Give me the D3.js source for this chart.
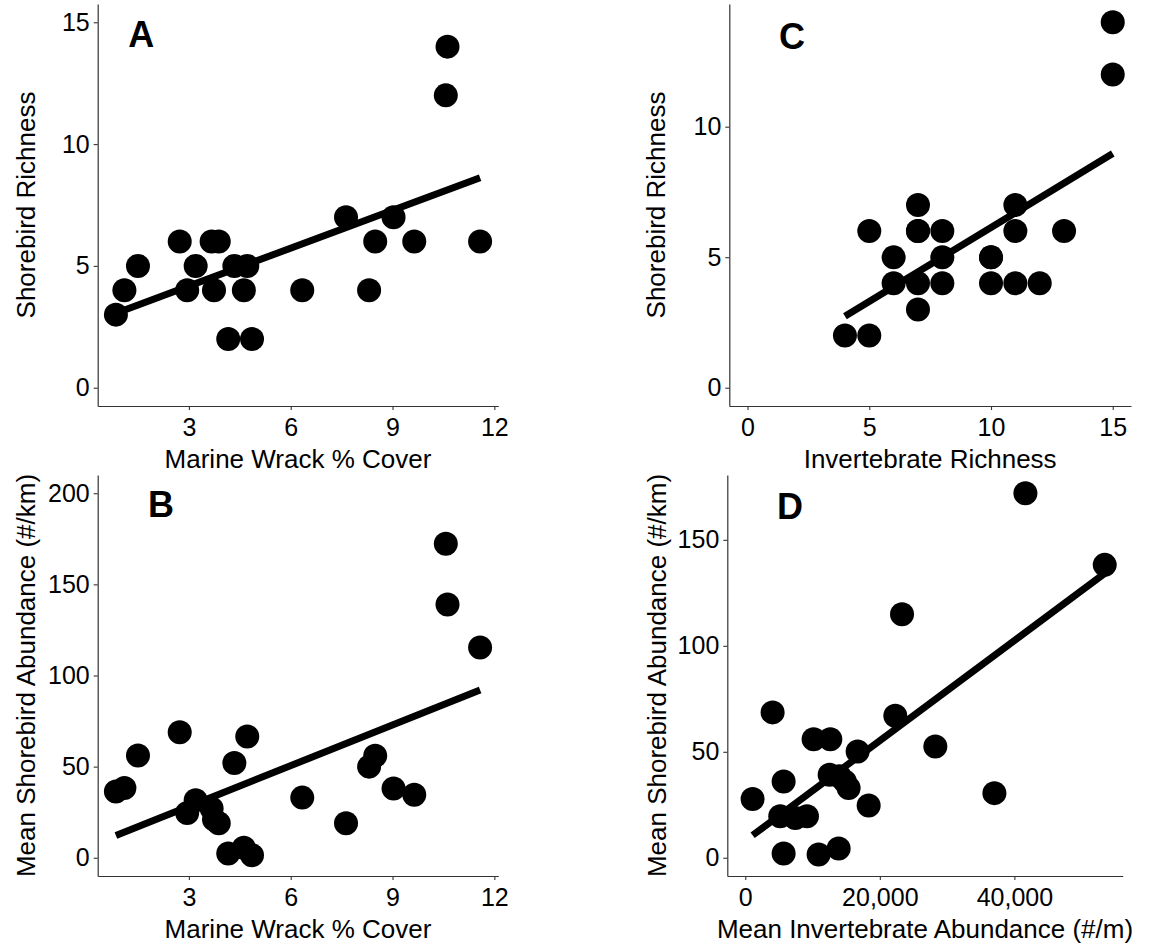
<!DOCTYPE html>
<html>
<head>
<meta charset="utf-8">
<script src="https://cdn.jsdelivr.net/npm/d3@7"></script>
<style>
  body { margin: 0; background: #fff; }
  text { font-family: 'Liberation Sans', Arial, sans-serif; fill: #000; }
</style>
</head>
<body>
<svg id="chart"></svg>
<script>
// marine wrack % cover per site (panels A and B share it)
const wrackCover = [0.85, 1.1, 1.5, 2.73, 2.95, 3.2, 3.67, 3.88, 3.74, 4.34, 4.72, 4.62,
  4.16, 4.86, 6.34, 7.63, 8.31, 8.49, 9.03, 9.64, 10.57, 10.62, 11.58];
const richnessByWrack = [3, 4, 5, 6, 4, 5, 6, 6, 4, 5, 5, 4, 2, 2, 4, 7, 4, 6, 7, 6, 12, 14, 6];
const abundanceByWrack = [36.4, 38.3, 56.1, 68.9, 24.6, 31.5, 27, 19, 21, 52, 66.5, 5.5,
  2.4, 1.4, 33, 19, 50, 56, 38, 34.6, 172.3, 139, 115.4];

// invertebrate richness vs shorebird richness (panel C)
const invertRichness = [4, 5, 5, 6, 6, 7, 7, 7, 7, 8, 8, 8, 10, 10, 11, 11, 11, 12, 13, 15, 15, 10, 7];
const richnessByInvert = [2, 2, 6, 5, 4, 7, 6, 4, 3, 6, 5, 4, 5, 4, 7, 6, 4, 4, 6, 12, 14, 5, 6];

// invertebrate abundance (#/m) vs shorebird abundance (panel D)
const invertAbundance = [1090, 4065, 5700, 5200, 5700, 7435, 9170, 10160, 10900, 12640, 12540,
  14000, 15360, 14800, 13880, 16700, 18340, 22300, 23300, 28250, 37030, 41640, 53430];
const abundanceByInvert = [27.7, 68.6, 36, 19.6, 2, 18.8, 19.6, 55.9, 1.5, 55.9, 39.2,
  38.5, 32.9, 36, 4.4, 50.1, 24.7, 67, 114.9, 52.5, 30.5, 172, 138.2];

// fitted line: y at the lowest and highest x of each panel
const fitA = [3.06, 8.62];
const fitB = [12.2, 92.1];
const fitC = [2.74, 8.97];
const fitD = [10.6, 134.2];

const ticksWrack = [3, 6, 9, 12];
const ticksRichA = [0, 5, 10, 15];
const ticksAbundB = [0, 50, 100, 150, 200];
const ticksInvRich = [0, 5, 10, 15];
const ticksRichC = [0, 5, 10];
const ticksInvAbund = [0, 20000, 40000];
const ticksAbundD = [0, 50, 100, 150];

const pad = ([lo, hi]) => {
  const d = (hi - lo) * 0.05;
  return [lo - d, hi + d];
};

const svg = d3.select('#chart')
  .attr('width', 1151)
  .attr('height', 951);

const panels = [
  {
    letter: 'A', letterAt: [1.6, 14.5],
    left: 97.7, top: 4, width: 400.6, height: 402,
    xs: wrackCover, ys: richnessByWrack, fit: fitA,
    xDomain: pad(d3.extent(wrackCover)), yDomain: pad([0, 15]),
    xTicks: ticksWrack, yTicks: ticksRichA, xFormat: d3.format('d'),
    xTitle: 'Marine Wrack % Cover', yTitle: 'Shorebird Richness', yTitleX: 35
  },
  {
    letter: 'B', letterAt: [2.18, 193.8],
    left: 97.7, top: 475, width: 400.6, height: 401,
    xs: wrackCover, ys: abundanceByWrack, fit: fitB,
    xDomain: pad(d3.extent(wrackCover)), yDomain: pad([0, 200]),
    xTicks: ticksWrack, yTicks: ticksAbundB, xFormat: d3.format('d'),
    xTitle: 'Marine Wrack % Cover', yTitle: 'Mean Shorebird Abundance (#/km)', yTitleX: 35
  },
  {
    letter: 'C', letterAt: [1.83, 13.48],
    left: 729.3, top: 4, width: 401.7, height: 402,
    xs: invertRichness, ys: richnessByInvert, fit: fitC,
    xDomain: pad([0, d3.max(invertRichness)]), yDomain: pad([0, d3.max(richnessByInvert)]),
    xTicks: ticksInvRich, yTicks: ticksRichC, xFormat: d3.format('d'),
    xTitle: 'Invertebrate Richness', yTitle: 'Shorebird Richness', yTitleX: 665
  },
  {
    letter: 'D', letterAt: [6650, 166],
    left: 727.3, top: 475, width: 395.4, height: 401,
    xs: invertAbundance, ys: abundanceByInvert, fit: fitD,
    xDomain: pad([0, d3.max(invertAbundance)]), yDomain: pad([0, d3.max(abundanceByInvert)]),
    xTicks: ticksInvAbund, yTicks: ticksAbundD, xFormat: d3.format(','),
    xTitle: 'Mean Invertebrate Abundance (#/m)', yTitle: 'Mean Shorebird Abundance (#/km)', yTitleX: 666
  }
];

const drawPanel = (p) => {
  const g = svg.append('g')
    .attr('transform', `translate(${p.left},${p.top})`);

  const x = d3.scaleLinear().domain(p.xDomain).range([0, p.width]);
  const y = d3.scaleLinear().domain(p.yDomain).range([p.height, 0]);

  const xAxis = g.append('g')
    .attr('transform', `translate(0,${p.height})`)
    .call(d3.axisBottom(x).tickValues(p.xTicks).tickFormat(p.xFormat)
      .tickSize(4).tickSizeOuter(0).tickPadding(8));

  const yAxis = g.append('g')
    .call(d3.axisLeft(y).tickValues(p.yTicks)
      .tickSize(4).tickSizeOuter(0).tickPadding(4));

  [xAxis, yAxis].forEach(ax => {
    ax.select('.domain').attr('stroke', '#333').attr('stroke-width', 1.2);
    ax.selectAll('.tick line').attr('stroke', '#333').attr('stroke-width', 1.1);
    ax.selectAll('.tick text')
      .attr('font-family', "'Liberation Sans', Arial, sans-serif")
      .attr('font-size', 25)
      .attr('fill', '#000');
  });

  const pts = p.xs.map((v, i) => ({ x: v, y: p.ys[i] }));

  g.selectAll('.dot')
    .data(pts)
    .enter().append('circle')
    .attr('class', 'dot')
    .attr('cx', d => x(d.x))
    .attr('cy', d => y(d.y))
    .attr('r', 12)
    .attr('fill', '#000');

  const [xLo, xHi] = d3.extent(p.xs);
  const line = d3.line()
    .x(d => x(d[0]))
    .y(d => y(d[1]));

  g.append('path')
    .datum([[xLo, p.fit[0]], [xHi, p.fit[1]]])
    .attr('fill', 'none')
    .attr('stroke', '#000')
    .attr('stroke-width', 7)
    .attr('stroke-linecap', 'butt')
    .attr('d', line);

  g.append('text')
    .attr('x', x(p.letterAt[0]))
    .attr('y', y(p.letterAt[1]))
    .attr('dy', '0.36em')
    .attr('text-anchor', 'middle')
    .attr('font-size', 36)
    .attr('font-weight', 'bold')
    .text(p.letter);

  g.append('text')
    .attr('x', p.width / 2)
    .attr('y', p.height + 62)
    .attr('text-anchor', 'middle')
    .attr('font-size', 26)
    .text(p.xTitle);

  svg.append('text')
    .attr('transform', `translate(${p.yTitleX},${p.top + p.height / 2}) rotate(-90)`)
    .attr('text-anchor', 'middle')
    .attr('font-size', 26)
    .text(p.yTitle);
};

panels.forEach(drawPanel);
</script>
</body>
</html>
